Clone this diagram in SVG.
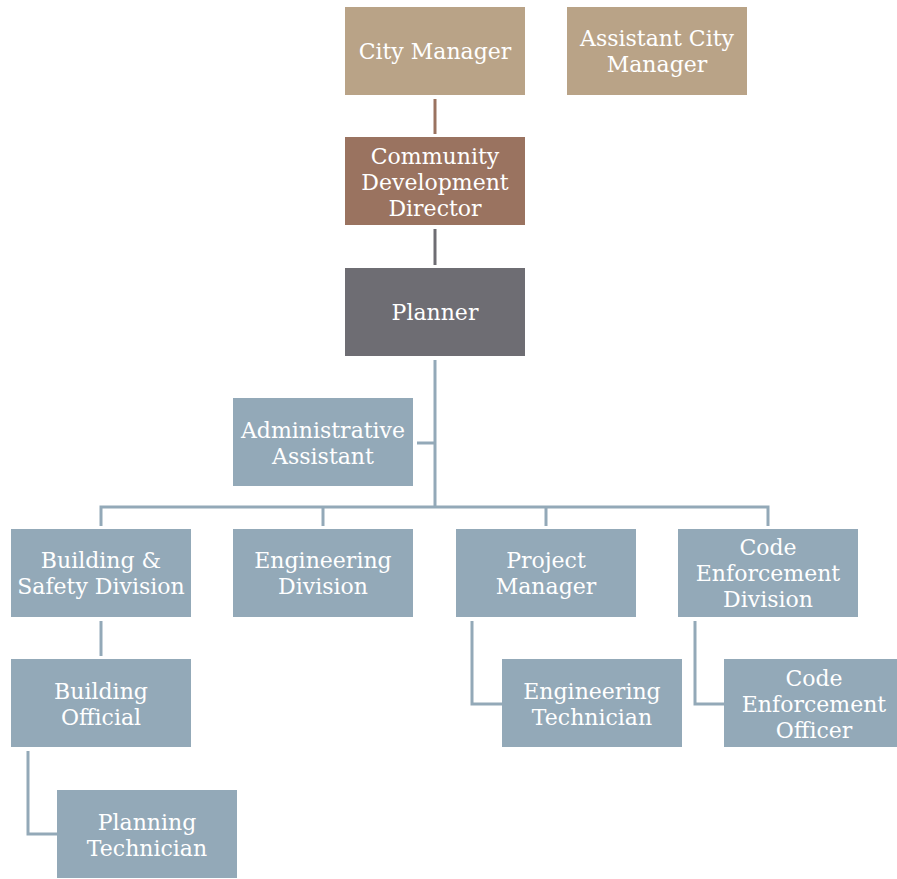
<svg xmlns="http://www.w3.org/2000/svg" width="897" height="879" viewBox="0 0 897 879">
  <style>
    .box { stroke: none; }
    .tan { fill: #b9a387; }
    .brown { fill: #9a7360; }
    .gray { fill: #6e6d73; }
    .blue { fill: #93a9b8; }
    text { font-family: "DejaVu Serif", "Liberation Serif", serif; font-size: 22px; fill: #ffffff; text-anchor: middle; }
    .link { fill: none; stroke: #93a9b8; stroke-width: 3; }
  </style>
  <rect width="897" height="879" fill="#ffffff"/>

  <g id="connectors">
    <line x1="435" y1="99" x2="435" y2="134" stroke="#9a7360" stroke-width="3"/>
    <line x1="435" y1="229" x2="435" y2="265" stroke="#6e6d73" stroke-width="3"/>
    <polyline class="link" points="435,360 435,507"/>
    <polyline class="link" points="417,443 435,443"/>
    <polyline class="link" points="101,526 101,507 768,507 768,526"/>
    <polyline class="link" points="323,507 323,526"/>
    <polyline class="link" points="546,507 546,526"/>
    <polyline class="link" points="101,621 101,656"/>
    <polyline class="link" points="28,751 28,834 57,834"/>
    <polyline class="link" points="472,621 472,704 502,704"/>
    <polyline class="link" points="695,621 695,704 724,704"/>
  </g>

  <g id="city-manager">
    <rect class="box tan" x="345" y="7" width="180" height="88"/>
    <text x="435" y="59">City Manager</text>
  </g>
  <g id="assistant-city-manager">
    <rect class="box tan" x="567" y="7" width="180" height="88"/>
    <text x="657" y="46">Assistant City</text>
    <text x="657" y="72">Manager</text>
  </g>
  <g id="community-development-director">
    <rect class="box brown" x="345" y="137" width="180" height="88"/>
    <text x="435" y="164">Community</text>
    <text x="435" y="190">Development</text>
    <text x="435" y="216">Director</text>
  </g>
  <g id="planner">
    <rect class="box gray" x="345" y="268" width="180" height="88"/>
    <text x="435" y="320">Planner</text>
  </g>
  <g id="administrative-assistant">
    <rect class="box blue" x="233" y="398" width="180" height="88"/>
    <text x="323" y="438">Administrative</text>
    <text x="323" y="464">Assistant</text>
  </g>
  <g id="building-safety-division">
    <rect class="box blue" x="11" y="529" width="180" height="88"/>
    <text x="101" y="568">Building &amp;</text>
    <text x="101" y="594">Safety Division</text>
  </g>
  <g id="engineering-division">
    <rect class="box blue" x="233" y="529" width="180" height="88"/>
    <text x="323" y="568">Engineering</text>
    <text x="323" y="594">Division</text>
  </g>
  <g id="project-manager">
    <rect class="box blue" x="456" y="529" width="180" height="88"/>
    <text x="546" y="568">Project</text>
    <text x="546" y="594">Manager</text>
  </g>
  <g id="code-enforcement-division">
    <rect class="box blue" x="678" y="529" width="180" height="88"/>
    <text x="768" y="555">Code</text>
    <text x="768" y="581">Enforcement</text>
    <text x="768" y="607">Division</text>
  </g>
  <g id="building-official">
    <rect class="box blue" x="11" y="659" width="180" height="88"/>
    <text x="101" y="699">Building</text>
    <text x="101" y="725">Official</text>
  </g>
  <g id="planning-technician">
    <rect class="box blue" x="57" y="790" width="180" height="88"/>
    <text x="147" y="830">Planning</text>
    <text x="147" y="856">Technician</text>
  </g>
  <g id="engineering-technician">
    <rect class="box blue" x="502" y="659" width="180" height="88"/>
    <text x="592" y="699">Engineering</text>
    <text x="592" y="725">Technician</text>
  </g>
  <g id="code-enforcement-officer">
    <rect class="box blue" x="724" y="659" width="180" height="88"/>
    <text x="814" y="686">Code</text>
    <text x="814" y="712">Enforcement</text>
    <text x="814" y="738">Officer</text>
  </g>
</svg>
